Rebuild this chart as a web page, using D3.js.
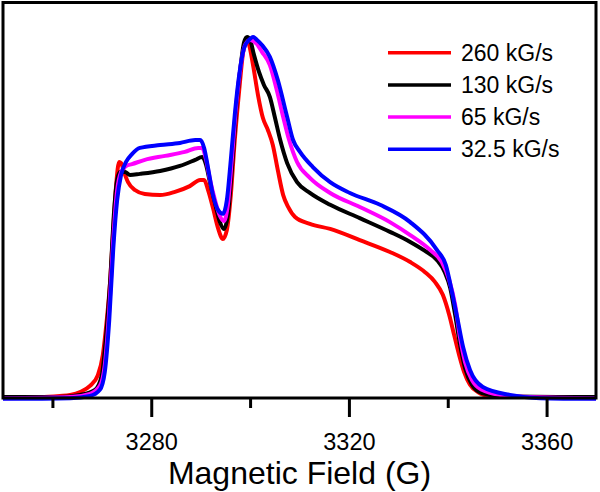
<!DOCTYPE html>
<html><head><meta charset="utf-8">
<script src="https://cdn.jsdelivr.net/npm/d3@7"></script>
<style>
html,body{margin:0;padding:0;background:#fff;}
svg{display:block;font-family:"Liberation Sans",Arial,sans-serif;}
</style></head>
<body><svg id="c" width="600" height="492"></svg>
<script>
// ---- data ----
const seriesNames = ["260 kG/s", "130 kG/s", "65 kG/s", "32.5 kG/s"];
const seriesColors = ["#ff0000", "#000000", "#ff00ff", "#0000ff"];
const majorTicks = [3280, 3320, 3360];
const minorTicks = [3260, 3300, 3340];
const xTitle = "Magnetic Field (G)";

// [field (G), intensity (a.u.)]
const red = [[3250,-0.3],[3257.5,-0.3],[3261.5,0],[3263.6,0.3],[3265.6,1.1],[3267.6,2.8],[3269.2,5.8],[3270.2,11.4],[3271.0,21.1],[3271.7,32.2],[3272.3,46.1],[3272.9,58.6],[3273.5,65.0],[3273.9,64.7],[3274.5,62.2],[3275.3,59.4],[3276.7,57.2],[3278.7,56.1],[3281.8,55.8],[3284.8,56.7],[3287.8,58.3],[3289.9,60.0],[3290.7,60.0],[3291.5,57.2],[3292.5,52.2],[3293.5,46.7],[3294.5,43.6],[3295.3,46.1],[3296.1,55.8],[3296.9,71.1],[3297.8,85.0],[3298.6,95.6],[3299.2,98.9],[3299.8,97.5],[3300.6,91.9],[3301.6,83.6],[3302.6,77.2],[3303.6,73.9],[3304.6,69.7],[3305.6,62.8],[3306.7,55.8],[3307.7,52.5],[3309.1,49.7],[3312.1,47.8],[3316.2,46.4],[3322.2,43.3],[3328.3,40.0],[3332.4,37.2],[3335.4,34.4],[3337.4,31.7],[3339.0,28.1],[3340.3,22.5],[3341.3,16.9],[3342.3,11.4],[3343.3,6.7],[3344.5,3.1],[3346.1,1.1],[3348.5,0],[3354.6,-0.3],[3370,-0.3]];
const black = [[3250,-0.3],[3261.5,-0.3],[3265.6,0.3],[3268.6,1.7],[3270.0,5.8],[3270.8,15.6],[3271.7,32.2],[3272.5,51.7],[3273.1,60.0],[3273.7,62.2],[3274.7,62.2],[3275.7,61.4],[3277.7,61.7],[3281.8,62.5],[3285.8,63.9],[3288.9,65.6],[3290.3,66.4],[3291.1,64.2],[3291.9,59.2],[3292.9,53.6],[3293.9,48.3],[3294.7,46.4],[3295.5,50.3],[3296.3,62.8],[3297.1,78.1],[3298.0,90.6],[3298.8,98.3],[3299.4,99.7],[3300.0,98.9],[3300.8,94.7],[3301.8,90.0],[3302.8,86.4],[3304.0,83.1],[3305.0,77.5],[3306.1,71.1],[3307.5,64.7],[3309.5,59.4],[3312.1,56.4],[3316.2,53.1],[3322.2,49.4],[3328.3,45.6],[3332.4,42.8],[3335.4,40.3],[3337.8,37.8],[3339.4,34.4],[3340.5,30.0],[3341.5,22.5],[3342.5,14.2],[3343.5,7.8],[3344.9,3.1],[3346.9,0.8],[3350.6,0],[3370,-0.3]];
const magenta = [[3250,-0.6],[3263.6,-0.3],[3267.6,0.6],[3269.6,2.8],[3270.6,8.6],[3271.5,23.9],[3272.3,43.3],[3273.1,57.2],[3273.9,62.2],[3274.9,63.9],[3276.1,64.4],[3278.7,65.6],[3282.8,66.7],[3286.8,67.8],[3289.5,68.9],[3290.3,68.9],[3291.1,65.6],[3291.9,60.0],[3292.9,54.4],[3293.9,50.0],[3294.7,48.6],[3295.5,53.1],[3296.3,65.6],[3297.1,79.4],[3298.0,90.6],[3299.0,97.5],[3300.0,98.9],[3301.0,98.3],[3302.4,95.6],[3304.0,91.9],[3305.4,85.0],[3306.7,77.5],[3307.9,71.1],[3309.5,65.0],[3312.1,60.6],[3316.2,56.4],[3322.2,52.5],[3328.3,48.3],[3332.4,44.7],[3336.4,40.6],[3338.8,37.2],[3340.3,32.2],[3341.5,25.3],[3342.5,16.1],[3343.5,9.4],[3344.9,4.4],[3346.9,1.7],[3350.6,0.3],[3356.6,-0.3],[3370,-0.6]];
const blue = [[3250,-0.8],[3263.6,-0.6],[3267.6,0],[3269.6,1.7],[3270.6,6.7],[3271.5,21.1],[3272.3,40.6],[3273.1,54.4],[3273.9,61.4],[3274.9,65.0],[3276.1,67.2],[3277.7,68.9],[3281.8,69.7],[3285.8,70.3],[3288.9,71.1],[3289.9,71.1],[3290.7,68.9],[3291.5,63.3],[3292.5,55.8],[3293.5,51.7],[3294.5,50.6],[3295.3,54.4],[3296.1,65.6],[3296.9,78.1],[3297.8,89.2],[3298.8,96.7],[3299.8,98.9],[3300.6,99.7],[3301.4,98.9],[3302.4,97.5],[3304.0,94.2],[3305.6,87.8],[3307.5,77.5],[3308.7,71.1],[3310.1,67.8],[3312.7,63.6],[3316.2,59.4],[3320.2,56.4],[3326.3,53.1],[3332.4,48.3],[3337.8,40.6],[3339.6,36.4],[3340.9,28.6],[3341.9,21.9],[3343.1,13.6],[3344.5,7.2],[3347.1,2.5],[3352.6,0.3],[3358.7,-0.6],[3370,-0.8]];
const seriesData = [red, black, magenta, blue];

// ---- layout ----
const W = 600, H = 492;
const L = 3, R = 596, T = 2.5, B = 398;
const svg = d3.select("#c");
const x = d3.scaleLinear().domain([3250, 3370]).range([L, R]);
const y = d3.scaleLinear().domain([-0.56, 109.3]).range([B, T]);

const clip = svg.append("defs").append("clipPath").attr("id","clip")
  .append("rect").attr("x", L).attr("y", T).attr("width", R-L).attr("height", B-T+3);

const line = d3.line().x(d => x(d[0])).y(d => y(d[1])).curve(d3.curveMonotoneX);
const g = svg.append("g").attr("clip-path","url(#clip)");
seriesData.forEach((s,i) => {
  g.append("path").datum(s).attr("d", line)
    .attr("fill","none").attr("stroke", seriesColors[i])
    .attr("stroke-width", 4).attr("stroke-linejoin","round");
});

// frame
svg.append("rect").attr("x", L).attr("y", T).attr("width", R-L).attr("height", B-T)
  .attr("fill","none").attr("stroke","#000").attr("stroke-width",3);

// axes
const axMaj = d3.axisBottom(x).tickValues(majorTicks).tickSize(19).tickPadding(16).tickFormat(d3.format("d"));
const gMaj = svg.append("g").attr("transform",`translate(0,${B})`).call(axMaj);
gMaj.select(".domain").remove();
gMaj.selectAll(".tick line").attr("stroke","#000").attr("stroke-width",3);
gMaj.selectAll(".tick text").attr("font-size", 23.5).attr("fill","#000")
  .attr("font-family","'Liberation Sans',Arial,sans-serif");

const axMin = d3.axisBottom(x).tickValues(minorTicks).tickSize(10).tickFormat("");
const gMin = svg.append("g").attr("transform",`translate(0,${B})`).call(axMin);
gMin.select(".domain").remove();
gMin.selectAll(".tick line").attr("stroke","#000").attr("stroke-width",3);

svg.append("text").attr("x", (L+R)/2).attr("y", 484).attr("text-anchor","middle")
  .attr("font-size", 32).attr("fill","#000").text(xTitle);

// legend
const lg = svg.append("g");
seriesNames.forEach((n,i) => {
  const ly = 52.7 + i*32.2;
  lg.append("line").attr("x1",388).attr("x2",451).attr("y1",ly).attr("y2",ly)
    .attr("stroke", seriesColors[i]).attr("stroke-width",3.5);
  lg.append("text").attr("x",461).attr("y",ly).attr("dy","0.35em")
    .attr("font-size",23).attr("fill","#000").text(n);
});
</script></body></html>
